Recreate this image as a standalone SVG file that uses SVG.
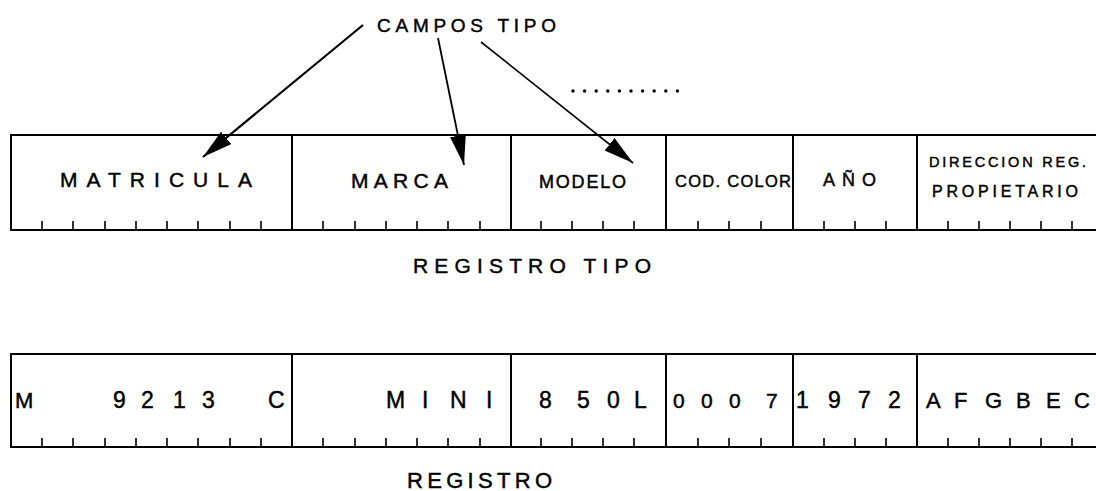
<svg xmlns="http://www.w3.org/2000/svg" width="1096" height="491" viewBox="0 0 1096 491">
<style>
  .frame { stroke: #000; stroke-width: 2; fill: none; stroke-linecap: square; }
  .tick { stroke: #000; stroke-width: 1.6; fill: none; }
  .t { font-family: "Liberation Sans", Arial, sans-serif; fill: #000; stroke: #000; stroke-width: 0.45; }
  .arrow { stroke: #000; fill: none; marker-end: url(#head); }
</style>
<defs>
  <marker id="head" markerUnits="userSpaceOnUse" markerWidth="32" markerHeight="18" refX="30" refY="8" orient="auto">
    <path d="M0,0 L30,8 L0,16 Z" fill="#000"/>
  </marker>
</defs>
<rect width="1096" height="491" fill="#fff"/>

<!-- title -->
<g id="campos-tipo">
  <text class="t" x="377" y="32" font-size="19" textLength="179" lengthAdjust="spacing">CAMPOS TIPO</text>
</g>
<g id="continuacion">
  <g fill="#000">
    <circle cx="573" cy="91" r="1.7"/><circle cx="584.6" cy="91" r="1.7"/><circle cx="596.2" cy="91" r="1.7"/>
    <circle cx="607.8" cy="91" r="1.7"/><circle cx="619.4" cy="91" r="1.7"/><circle cx="631" cy="91" r="1.7"/>
    <circle cx="642.6" cy="91" r="1.7"/><circle cx="654.2" cy="91" r="1.7"/><circle cx="665.8" cy="91" r="1.7"/>
    <circle cx="677.4" cy="91" r="1.7"/>
  </g>
</g>

<!-- REGISTRO TIPO -->
<g id="registro-tipo">
  <path class="frame" d="M11,135 H1096 M11,230 H1096"/>
  <g id="tipo-matricula">
    <path class="frame" d="M11,135 V230"/>
    <path class="tick" d="M42,221V230M73,221V230M105,221V230M136,221V230M167,221V230M198,221V230M230,221V230M261,221V230"/>
    <text class="t" x="60" y="187" font-size="21" textLength="192" lengthAdjust="spacing">MATRICULA</text>
  </g>
  <g id="tipo-marca">
    <path class="frame" d="M292,135 V230"/>
    <path class="tick" d="M323,221V230M355,221V230M386,221V230M417,221V230M448,221V230M480,221V230"/>
    <text class="t" x="351" y="188" font-size="21" textLength="97" lengthAdjust="spacing">MARCA</text>
  </g>
  <g id="tipo-modelo">
    <path class="frame" d="M511,135 V230"/>
    <path class="tick" d="M541,221V230M572,221V230M603,221V230M634,221V230"/>
    <text class="t" x="539" y="188" font-size="18" textLength="87" lengthAdjust="spacing">MODELO</text>
  </g>
  <g id="tipo-cod-color">
    <path class="frame" d="M666,135 V230"/>
    <path class="tick" d="M698,221V230M729,221V230M761,221V230"/>
    <text class="t" x="675" y="187" font-size="16.5" textLength="116" lengthAdjust="spacing">COD. COLOR</text>
  </g>
  <g id="tipo-anio">
    <path class="frame" d="M793,135 V230"/>
    <path class="tick" d="M824,221V230M855,221V230M886,221V230"/>
    <text class="t" x="823" y="186" font-size="18" textLength="53" lengthAdjust="spacing">AÑO</text>
  </g>
  <g id="tipo-direccion">
    <path class="frame" d="M917,135 V230"/>
    <path class="tick" d="M948,221V230M979,221V230M1010,221V230M1041,221V230M1072,221V230"/>
    <text class="t" x="929" y="167" font-size="14.5" textLength="157" lengthAdjust="spacing">DIRECCION REG.</text>
    <text class="t" x="932" y="197" font-size="16" textLength="146" lengthAdjust="spacing">PROPIETARIO</text>
  </g>
  <text class="t" x="413" y="273" font-size="21" textLength="238" lengthAdjust="spacing">REGISTRO TIPO</text>
</g>

<!-- REGISTRO -->
<g id="registro">
  <path class="frame" d="M11,354 H1096 M11,447 H1096"/>
  <g id="reg-matricula">
    <path class="frame" d="M11,354 V447"/>
    <path class="tick" d="M42,438V447M73,438V447M105,438V447M136,438V447M167,438V447M198,438V447M230,438V447M261,438V447"/>
    <text class="t" font-size="22" y="408" x="15">M</text>
    <text class="t" font-size="23" y="408" x="113 141 173 202">9213</text>
    <text class="t" font-size="23" y="408" x="268">C</text>
  </g>
  <g id="reg-marca">
    <path class="frame" d="M292,354 V447"/>
    <path class="tick" d="M323,438V447M355,438V447M386,438V447M417,438V447M448,438V447M480,438V447"/>
    <text class="t" font-size="23" y="408" x="386 422 450 486">MINI</text>
  </g>
  <g id="reg-modelo">
    <path class="frame" d="M511,354 V447"/>
    <path class="tick" d="M541,438V447M572,438V447M603,438V447M634,438V447"/>
    <text class="t" font-size="23" y="408" x="539 577 607 634">850L</text>
  </g>
  <g id="reg-cod-color">
    <path class="frame" d="M666,354 V447"/>
    <path class="tick" d="M698,438V447M729,438V447M761,438V447"/>
    <text class="t" font-size="21" y="408" x="673 701 729 766">0007</text>
  </g>
  <g id="reg-anio">
    <path class="frame" d="M793,354 V447"/>
    <path class="tick" d="M824,438V447M855,438V447M886,438V447"/>
    <text class="t" font-size="23" y="408" x="796 828 858 888">1972</text>
  </g>
  <g id="reg-direccion">
    <path class="frame" d="M917,354 V447"/>
    <path class="tick" d="M948,438V447M979,438V447M1010,438V447M1041,438V447M1072,438V447"/>
    <text class="t" font-size="22" y="408" x="926 954 985 1016 1046 1074">AFGBEC</text>
  </g>
  <text class="t" x="407" y="488" font-size="22" textLength="145" lengthAdjust="spacing">REGISTRO</text>
</g>

<!-- connectors -->
<g id="connectors">
  <line class="arrow" x1="363" y1="25" x2="203" y2="157" stroke-width="2.2"/>
  <line class="arrow" x1="438" y1="38" x2="464" y2="165" stroke-width="1.8"/>
  <line class="arrow" x1="481" y1="42" x2="633" y2="163" stroke-width="1.6"/>
</g>
</svg>
